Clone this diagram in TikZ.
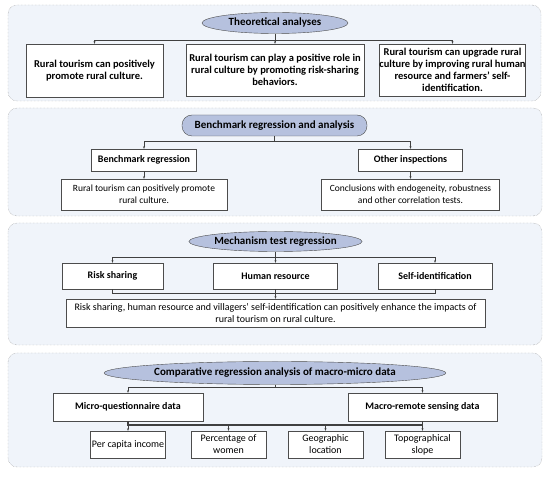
\documentclass[tikz,border=0pt]{standalone}
\usepackage{fontspec}
\setmainfont{Carlito}
\usetikzlibrary{arrows.meta,shapes.geometric}

\definecolor{panelfill}{HTML}{F0F4FA}
\definecolor{hdrfill}{HTML}{B6C1DE}
\tikzset{
  panel/.style={draw=black!45, densely dotted, rounded corners=9pt, fill=panelfill},
  hdr/.style={ellipse, draw=black!70, fill=hdrfill, inner sep=0pt,
    font=\bfseries\fontsize{11}{12}\selectfont},
  box/.style={rectangle, draw=black!70, fill=white, align=center, inner sep=0pt,
    font=\fontsize{10}{12}\selectfont},
  bbox/.style={box, font=\bfseries\fontsize{10}{12}\selectfont},
  wire/.style={draw=black!75, line width=0.6pt},
  arr/.style={wire, -{Stealth[length=2.5pt,width=2pt]}}
}

\begin{document}
\begin{tikzpicture}[x=1pt,y=-1pt]
  \useasboundingbox (0,0) rectangle (550,478);

  % panels
  \draw[panel] (8,5)   rectangle (541,101);
  \draw[panel] (8,108) rectangle (542,216);
  \draw[panel] (8,223) rectangle (542,345);
  \draw[panel] (8,353) rectangle (542,467);

  % theoretical analyses
  \node[hdr, minimum width=146pt, minimum height=21pt] (th) at (275,23) {Theoretical analyses};
  \node[bbox, font=\bfseries\fontsize{10.5}{12}\selectfont, minimum width=137pt, minimum height=53pt] (t1) at (94.5,70.5)
    {Rural tourism can positively\\promote rural culture.};
  \node[bbox, font=\bfseries\fontsize{10.5}{12}\selectfont, minimum width=178pt, minimum height=52pt] (t2) at (275,70)
    {Rural tourism can play a positive role in\\rural culture by promoting risk-sharing\\behaviors.};
  \node[bbox, font=\bfseries\fontsize{10.5}{12}\selectfont, minimum width=145pt, minimum height=52pt] (t3) at (452.5,70)
    {Rural tourism can upgrade rural\\culture by improving rural human\\resource and farmers’ self-\\identification.};
  \coordinate (tbus) at (275,40);
  \draw[wire] (th.south) -- (tbus);
  \draw[arr] (tbus) -| (t1.north);
  \draw[arr] (tbus) -- (t2.north);
  \draw[arr] (tbus) -| (t3.north);

  % benchmark regression
  \node[hdr, rectangle, rounded corners=10pt, minimum width=185pt, minimum height=21pt] (bh) at (274.5,125.5)
    {Benchmark regression and analysis};
  \node[bbox, minimum width=105pt, minimum height=22pt] (b1) at (144,160) {Benchmark regression};
  \node[box, font=\fontsize{9.5}{12}\selectfont, minimum width=166pt, minimum height=31pt] (b2) at (144,194.5)
    {Rural tourism can positively promote\\rural culture.};
  \node[bbox, minimum width=104pt, minimum height=22pt] (o1) at (410.5,160) {Other inspections};
  \node[box, font=\fontsize{9.5}{12}\selectfont, minimum width=178pt, minimum height=31pt] (o2) at (410.5,194.5)
    {Conclusions with endogeneity, robustness\\and other correlation tests.};
  \coordinate (bbus) at (274.5,141);
  \draw[wire] (bh.south) -- (bbus);
  \draw[arr] (bbus) -| (b1.north);
  \draw[arr] (bbus) -| (o1.north);
  \draw[arr] (b1) -- (b2);
  \draw[arr] (o1) -- (o2);

  % mechanism test regression
  \node[hdr, minimum width=166pt, minimum height=20pt] (mh) at (275.5,241.5) {Mechanism test regression};
  \node[bbox, minimum width=101pt, minimum height=26pt] (r1) at (112.5,276) {Risk sharing};
  \node[bbox, minimum width=124pt, minimum height=26pt] (r2) at (275.5,276) {Human resource};
  \node[bbox, minimum width=114pt, minimum height=26pt] (r3) at (435,276) {Self-identification};
  \node[box, minimum width=419pt, minimum height=28pt] (rr) at (275.5,313)
    {Risk sharing, human resource and villagers’ self-identification can positively enhance the impacts of\\rural tourism on rural culture.};
  \coordinate (mbus) at (275.5,257);
  \coordinate (rbus) at (275.5,293);
  \draw[wire] (mh.south) -- (mbus);
  \draw[arr] (mbus) -| (r1.north);
  \draw[arr] (mbus) -- (r2.north);
  \draw[arr] (mbus) -| (r3.north);
  \draw[wire] (r1.south) |- (rbus);
  \draw[wire] (r3.south) |- (rbus);
  \draw[wire] (r2.south) -- (rbus);
  \draw[arr] (rbus) -- (rr.north);

  % comparative regression analysis
  \node[hdr, minimum width=326pt, minimum height=23pt] (ch) at (275,373)
    {Comparative regression analysis of macro-micro data};
  \node[bbox, minimum width=150pt, minimum height=28pt] (m1) at (128,407) {Micro-questionnaire data};
  \node[bbox, minimum width=149pt, minimum height=28pt] (m2) at (422.5,407) {Macro-remote sensing data};
  \node[box, minimum width=75pt, minimum height=27pt] (p1) at (128,444.5) {Per capita income};
  \node[box, minimum width=75pt, minimum height=27pt] (p2) at (228.5,444.5) {Percentage of\\women};
  \node[box, minimum width=75pt, minimum height=27pt] (p3) at (325.5,444.5) {Geographic\\location};
  \node[box, minimum width=75pt, minimum height=27pt] (p4) at (422.5,444.5) {Topographical\\slope};
  \coordinate (cbus) at (275,387.5);
  \coordinate (dbus) at (275,425);
  \draw[wire] (ch.south) -- (cbus);
  \draw[arr] (cbus) -| (m1.north);
  \draw[arr] (cbus) -| (m2.north);
  \draw[wire, line width=1.1pt] (m1.south) |- (dbus) -| (m2.south);
  \foreach \p in {p1,p2,p3,p4}
    \draw[arr] (\p.north |- dbus) -- (\p.north);
\end{tikzpicture}
\end{document}
